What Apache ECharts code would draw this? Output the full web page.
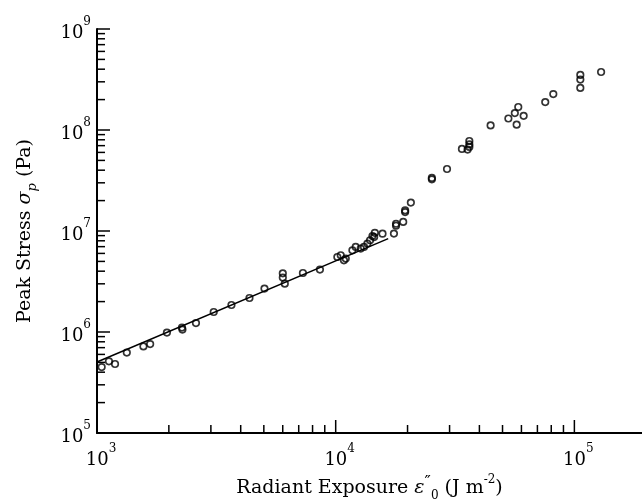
<!DOCTYPE html>
<html>
<head>
<meta charset="utf-8">
<script src="https://cdn.jsdelivr.net/npm/echarts@6/dist/echarts.min.js"></script>
<style>
  html, body { margin: 0; padding: 0; background: #fff; }
  #chart { width: 642px; height: 503px; }
</style>
</head>
<body>
<div id="chart"></div>
<script>
// measured points (J m^-2, Pa)
const exposure = [
  1046, 1122, 1190, 1333, 1565, 1670, 1963, 2270, 2280, 2598,
  3083, 3658, 4353, 5031, 6004, 6004, 6120, 7290, 8590, 10160,
  10500, 10830, 11020, 11750, 12130, 12730, 13140, 13580, 13930, 14260,
  14590, 15710, 14490, 17540, 17900, 17900, 19180, 19540, 19540, 20650,
  25290, 25290, 29270, 33800, 35700, 36300, 36300, 36300, 44570, 52900,
  56300, 58200, 57300, 61300, 75500, 81600, 105900, 105900, 105900, 129400
];
const stress = [
  4.5e5, 5.13e5, 4.82e5, 6.25e5, 7.2e5, 7.6e5, 9.86e5, 1.106e6, 1.057e6, 1.227e6,
  1.578e6, 1.85e6, 2.17e6, 2.69e6, 3.81e6, 3.46e6, 3.01e6, 3.84e6, 4.15e6, 5.53e6,
  5.75e6, 5.13e6, 5.33e6, 6.44e6, 6.95e6, 6.7e6, 6.95e6, 7.5e6, 8.1e6, 8.9e6,
  9.6e6, 9.4e6, 8.7e6, 9.42e6, 1.18e7, 1.13e7, 1.23e7, 1.54e7, 1.6e7, 1.91e7,
  3.25e7, 3.35e7, 4.11e7, 6.49e7, 6.4e7, 7.78e7, 7.2e7, 6.8e7, 1.11e8, 1.3e8,
  1.47e8, 1.69e8, 1.13e8, 1.38e8, 1.89e8, 2.27e8, 3.51e8, 3.16e8, 2.61e8, 3.75e8
];

// fitted line end points
const fitX = [1000, 16600];
const fitY = [5.05e5, 8.4e6];

const xMin = 1000, xMax = 192000;
const yMin = 1e5, yMax = 1e9;

// tick values (log axes, 2..9 per decade)
const xTicks = [
  1000, 2000, 3000, 4000, 5000, 6000, 7000, 8000, 9000,
  10000, 20000, 30000, 40000, 50000, 60000, 70000, 80000, 90000, 100000
];
const yTicks = [
  1e5, 2e5, 3e5, 4e5, 5e5, 6e5, 7e5, 8e5, 9e5,
  1e6, 2e6, 3e6, 4e6, 5e6, 6e6, 7e6, 8e6, 9e6,
  1e7, 2e7, 3e7, 4e7, 5e7, 6e7, 7e7, 8e7, 9e7,
  1e8, 2e8, 3e8, 4e8, 5e8, 6e8, 7e8, 8e8, 9e8, 1e9
];

const font = "DejaVu Serif";

const isDecade = (v) => Math.abs(Math.log10(v) - Math.round(Math.log10(v))) < 1e-6;

const powLabel = (v) => {
  if (!isDecade(v)) return "";
  return "{b|10}{s|" + Math.round(Math.log10(v)) + "}";
};

const labelRich = (padLeft) => ({
  b: { fontFamily: font, fontSize: 18, color: "#000", lineHeight: 26, verticalAlign: "bottom", padding: [0, 0, 0, padLeft] },
  s: { fontFamily: font, fontSize: 12, color: "#000", lineHeight: 26, verticalAlign: "top" }
});

const tickItem = (dir) => (params, api) => {
  let v = api.value(dir === "x" ? 0 : 1);
  let p = api.coord([api.value(0), api.value(1)]);
  let len = isDecade(v) ? 13 : 8;
  let shape = dir === "x"
    ? { x1: p[0], y1: p[1], x2: p[0], y2: p[1] - len }
    : { x1: p[0], y1: p[1], x2: p[0] + len, y2: p[1] };
  return {
    type: "line",
    shape: shape,
    style: { stroke: "#000", lineWidth: 1.5 }
  };
};

let chart = echarts.init(document.getElementById("chart"), null, { renderer: "canvas" });

let option = {
  backgroundColor: "#fff",
  animation: false,
  grid: {
    left: 97,
    right: 0,
    top: 29,
    bottom: 70,
    containLabel: false,
    outerBoundsMode: "none"
  },
  xAxis: {
    type: "log",
    logBase: 10,
    min: xMin,
    max: xMax,
    splitLine: { show: false },
    axisTick: { show: false },
    axisLine: { lineStyle: { color: "#000", width: 2 } },
    axisLabel: {
      margin: 10,
      formatter: powLabel,
      rich: labelRich(8),
      showMaxLabel: false
    },
    name: "{n|Radiant Exposure }{i|ε}{p|″}{d|0}{n| (J m}{s|-2}{n|)}",
    nameLocation: "middle",
    nameGap: 36,
    nameTextStyle: {
      rich: {
        n: { fontFamily: font, fontSize: 19, color: "#000", lineHeight: 28, verticalAlign: "middle" },
        i: { fontFamily: font, fontSize: 19, fontStyle: "italic", color: "#000", lineHeight: 28, verticalAlign: "middle" },
        p: { fontFamily: font, fontSize: 17, color: "#000", lineHeight: 28, verticalAlign: "top" },
        s: { fontFamily: font, fontSize: 12, color: "#000", lineHeight: 28, verticalAlign: "top" },
        d: { fontFamily: font, fontSize: 12, color: "#000", lineHeight: 28, verticalAlign: "bottom" }
      }
    }
  },
  yAxis: {
    type: "log",
    logBase: 10,
    min: yMin,
    max: yMax,
    splitLine: { show: false },
    axisTick: { show: false },
    axisLine: { lineStyle: { color: "#000", width: 2 } },
    axisLabel: {
      margin: 6,
      formatter: powLabel,
      rich: labelRich(0)
    },
    name: "{n|Peak Stress }{i|σ}{d|p}{n| (Pa)}",
    nameLocation: "middle",
    nameRotate: 90,
    nameGap: 58,
    nameTextStyle: {
      rich: {
        n: { fontFamily: font, fontSize: 19, color: "#000", lineHeight: 28, verticalAlign: "middle" },
        i: { fontFamily: font, fontSize: 19, fontStyle: "italic", color: "#000", lineHeight: 28, verticalAlign: "middle" },
        d: { fontFamily: font, fontSize: 13, fontStyle: "italic", color: "#000", lineHeight: 28, verticalAlign: "bottom" }
      }
    }
  },
  series: [
    {
      type: "custom",
      silent: true,
      clip: false,
      renderItem: tickItem("x"),
      data: xTicks.map((v) => [v, yMin])
    },
    {
      type: "custom",
      silent: true,
      clip: false,
      renderItem: tickItem("y"),
      data: yTicks.map((v) => [xMin, v])
    },
    {
      type: "line",
      silent: true,
      symbol: "none",
      lineStyle: { color: "#000", width: 1.5 },
      data: fitX.map((x, i) => [x, fitY[i]])
    },
    {
      type: "scatter",
      symbol: "circle",
      symbolSize: 6.5,
      itemStyle: { color: "rgba(255,255,255,0)", borderColor: "#000", borderWidth: 1.7 },
      data: exposure.map((x, i) => [x, stress[i]])
    }
  ]
};

chart.setOption(option);
</script>
</body>
</html>
